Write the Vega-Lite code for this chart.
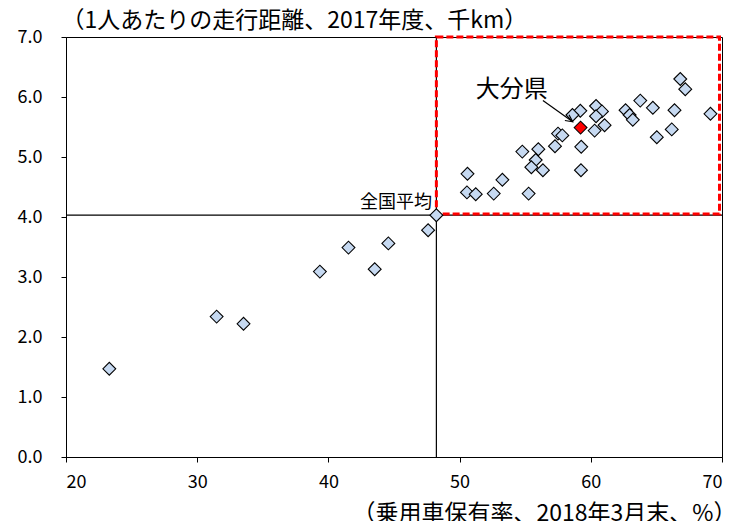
{
  "$schema": "https://vega.github.io/schema/vega-lite/v6.json",
  "width": 656,
  "height": 420,
  "autosize": "none",
  "padding": {"left": 66, "top": 37, "right": 11, "bottom": 64},
  "background": "white",
  "config": {
    "font": "Noto Sans CJK JP",
    "view": {"stroke": "black", "strokeWidth": 1},
    "axis": {"grid": false, "domainColor": "black", "tickColor": "black", "labelColor": "black", "titleColor": "black", "labelFontSize": 18, "tickSize": 5, "titleFontWeight": "normal"}
  },
  "datasets": {
    "pts": [
      {"x": 23.3, "y": 1.47}, {"x": 31.48, "y": 2.34}, {"x": 33.53, "y": 2.22}, {"x": 39.35, "y": 3.09},
      {"x": 41.53, "y": 3.49}, {"x": 43.53, "y": 3.13}, {"x": 44.57, "y": 3.56}, {"x": 47.6, "y": 3.78},
      {"x": 48.23, "y": 4.03},
      {"x": 66.82, "y": 6.30}, {"x": 67.2, "y": 6.13}, {"x": 63.77, "y": 5.94}, {"x": 64.73, "y": 5.82},
      {"x": 66.38, "y": 5.78}, {"x": 69.12, "y": 5.72}, {"x": 62.65, "y": 5.78}, {"x": 62.96, "y": 5.70},
      {"x": 63.2, "y": 5.62}, {"x": 60.4, "y": 5.85}, {"x": 60.85, "y": 5.76}, {"x": 60.4, "y": 5.68},
      {"x": 61.05, "y": 5.53}, {"x": 60.29, "y": 5.44}, {"x": 59.2, "y": 5.77}, {"x": 58.6, "y": 5.70},
      {"x": 66.17, "y": 5.46}, {"x": 65.03, "y": 5.33}, {"x": 57.5, "y": 5.39}, {"x": 57.83, "y": 5.36},
      {"x": 57.27, "y": 5.18}, {"x": 59.27, "y": 5.17}, {"x": 54.78, "y": 5.09}, {"x": 56.0, "y": 5.13},
      {"x": 55.8, "y": 4.95}, {"x": 55.47, "y": 4.83}, {"x": 56.35, "y": 4.78}, {"x": 59.25, "y": 4.78},
      {"x": 50.6, "y": 4.72}, {"x": 50.56, "y": 4.41}, {"x": 51.23, "y": 4.38}, {"x": 52.6, "y": 4.39},
      {"x": 53.26, "y": 4.62}, {"x": 55.26, "y": 4.39}
    ],
    "oita": [{"x": 59.22, "y": 5.49, "label": "大分県", "lx": 53.97, "ly": 6.12}],
    "avg": [{"x": 48.23, "y": 4.03, "label": "全国平均", "lx": 47.9, "ly": 4.23}],
    "box": [{"x": 48.23, "x2": 69.81, "y": 4.05, "y2": 7.0}],
    "arrow": [{"x": 56.35, "y": 5.94}, {"x": 58.62, "y": 5.588}],
    "tip": [{"x": 58.62, "y": 5.588}]
  },
  "layer": [
    {
      "data": {"name": "avg"},
      "mark": {"type": "rule", "color": "black", "strokeWidth": 1.2},
      "encoding": {
        "y": {"field": "y", "type": "quantitative", "scale": {"domain": [0, 7], "nice": false},
          "axis": {"values": [0, 1, 2, 3, 4, 5, 6, 7], "format": ".1f", "labelPadding": 19,
            "title": "（1人あたりの走行距離、2017年度、千km）", "titleAngle": 0, "titleAlign": "left", "titleBaseline": "middle",
            "titleX": -5, "titleY": -17, "titleFontSize": 23}}
      }
    },
    {
      "data": {"name": "avg"},
      "mark": {"type": "rule", "color": "black", "strokeWidth": 1.2},
      "encoding": {
        "x": {"field": "x", "type": "quantitative", "scale": {"domain": [20, 70], "nice": false},
          "axis": {"values": [20, 30, 40, 50, 60, 70], "labelPadding": 11,
            "title": "（乗用車保有率、2018年3月末、%）", "titleAlign": "left", "titleBaseline": "middle", "titleAnchor": "start",
            "titleX": 286, "titleY": 56, "titleFontSize": 23}}
      }
    },
    {
      "data": {"name": "box"},
      "mark": {"type": "rect", "fill": null, "fillOpacity": 0, "stroke": "#ff0000", "strokeWidth": 3, "strokeDash": [7, 3]},
      "encoding": {
        "x": {"field": "x", "type": "quantitative"},
        "x2": {"field": "x2"},
        "y": {"field": "y", "type": "quantitative"},
        "y2": {"field": "y2"}
      }
    },
    {
      "data": {"name": "pts"},
      "mark": {"type": "point", "shape": "diamond", "filled": true, "fill": "#c6d9f1", "stroke": "black", "strokeWidth": 1.1, "size": 165, "opacity": 1},
      "encoding": {
        "x": {"field": "x", "type": "quantitative"},
        "y": {"field": "y", "type": "quantitative"}
      }
    },
    {
      "data": {"name": "oita"},
      "mark": {"type": "point", "shape": "diamond", "filled": true, "fill": "#ff0000", "stroke": "black", "strokeWidth": 1.1, "size": 165, "opacity": 1},
      "encoding": {
        "x": {"field": "x", "type": "quantitative"},
        "y": {"field": "y", "type": "quantitative"}
      }
    },
    {
      "data": {"name": "oita"},
      "mark": {"type": "text", "fontSize": 24, "color": "black", "align": "center", "baseline": "middle"},
      "encoding": {
        "x": {"field": "lx", "type": "quantitative"},
        "y": {"field": "ly", "type": "quantitative"},
        "text": {"field": "label"}
      }
    },
    {
      "data": {"name": "avg"},
      "mark": {"type": "text", "fontSize": 18, "color": "black", "align": "right", "baseline": "middle"},
      "encoding": {
        "x": {"field": "lx", "type": "quantitative"},
        "y": {"field": "ly", "type": "quantitative"},
        "text": {"field": "label"}
      }
    },
    {
      "data": {"name": "arrow"},
      "mark": {"type": "line", "color": "black", "strokeWidth": 1.2},
      "encoding": {
        "x": {"field": "x", "type": "quantitative"},
        "y": {"field": "y", "type": "quantitative"}
      }
    },
    {
      "data": {"name": "tip"},
      "mark": {"type": "point", "shape": "M-0.5,1L0,0L0.5,1", "filled": false, "stroke": "black", "strokeWidth": 1.2, "size": 200, "angle": 125.5, "opacity": 1},
      "encoding": {
        "x": {"field": "x", "type": "quantitative"},
        "y": {"field": "y", "type": "quantitative"}
      }
    }
  ]
}
